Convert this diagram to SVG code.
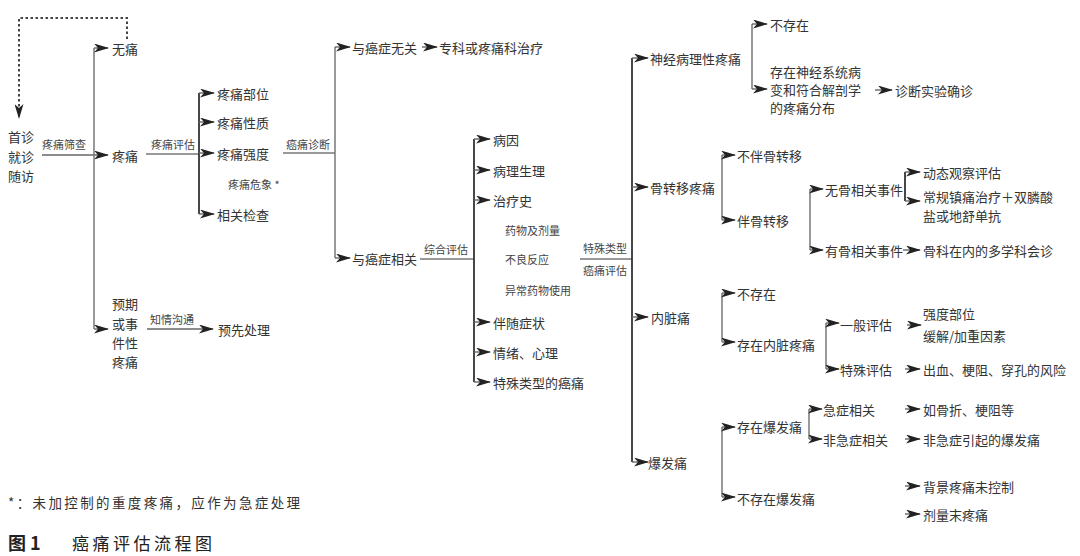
<svg xmlns="http://www.w3.org/2000/svg" width="1080" height="556" viewBox="0 0 1080 556">
<defs>
<marker id="ah" markerWidth="15" markerHeight="9" refX="14" refY="4.5" orient="auto" markerUnits="userSpaceOnUse"><path d="M0,0 L15,4.5 L0,9 L4,4.5 Z" fill="#222"/></marker>
<style>
text{font-family:"Noto Sans CJK SC","Noto Sans",sans-serif;fill:#333;dominant-baseline:central}
.m{font-size:13px}
.s{font-size:11px;fill:#444}
.c{text-anchor:middle}
.ln{fill:none;stroke:#777;stroke-width:1.5}
.dk{fill:none;stroke:#333;stroke-width:1.8}
.ar{fill:none;stroke:#666;stroke-width:1.4;marker-end:url(#ah)}
.dash{fill:none;stroke:#444;stroke-width:2;stroke-dasharray:2.5 2.5;marker-end:url(#ah)}
</style>
</defs>
<rect width="1080" height="556" fill="#fff"/>
<g id="connectors">
<path class="dash" d="M127,39 V18 H19 V118"/>
<path class="ar" d="M42,155 H108"/>
<path class="ln" d="M94,48 V329"/>
<path class="ar" d="M94,48 H108"/>
<path class="ar" d="M94,329 H108"/>
<path class="ln" d="M146,154 H199"/>
<path class="dk" d="M199,93 V214"/>
<path class="ar" d="M199,93 H214"/>
<path class="ar" d="M199,122 H214"/>
<path class="ar" d="M199,153 H214"/>
<path class="ar" d="M199,214 H214"/>
<path class="ln" d="M283,153 H335"/>
<path class="ln" d="M335,47 V258"/>
<path class="ar" d="M335,47 H350"/>
<path class="ar" d="M335,258 H350"/>
<path class="ar" d="M422,47 H437"/>
<path class="ln" d="M420,259 H474"/>
<path class="dk" d="M474,139 V382"/>
<path class="ar" d="M474,139 H490"/>
<path class="ar" d="M474,170 H490"/>
<path class="ar" d="M474,200 H490"/>
<path class="ar" d="M474,322 H490"/>
<path class="ar" d="M474,352 H490"/>
<path class="ar" d="M474,382 H490"/>
<path class="ln" d="M580,259 H632"/>
<path class="dk" d="M632,58 V462"/>
<path class="ar" d="M632,58 H648"/>
<path class="ar" d="M632,187 H648"/>
<path class="ar" d="M632,317 H648"/>
<path class="ar" d="M632,462 H648"/>
<path class="ln" d="M752,24 V89"/>
<path class="ar" d="M752,24 H767"/>
<path class="ar" d="M752,89 H767"/>
<path class="ar" d="M875,90 H892"/>
<path class="ln" d="M722,155 V220"/>
<path class="ar" d="M722,155 H735"/>
<path class="ar" d="M722,220 H735"/>
<path class="ln" d="M810,189 V250"/>
<path class="ar" d="M810,189 H823"/>
<path class="ar" d="M810,250 H823"/>
<path class="dk" d="M905,172 V201"/>
<path class="ar" d="M905,172 H920"/>
<path class="ar" d="M905,201 H920"/>
<path class="ar" d="M903,250 H920"/>
<path class="ln" d="M722,293 V342"/>
<path class="ar" d="M722,293 H735"/>
<path class="ar" d="M722,342 H735"/>
<path class="ln" d="M826,323 V369"/>
<path class="ar" d="M826,323 H839"/>
<path class="ar" d="M826,369 H839"/>
<path class="ar" d="M907,325 H921"/>
<path class="ar" d="M905,369 H920"/>
<path class="ln" d="M722,427 V497"/>
<path class="ar" d="M722,427 H735"/>
<path class="ar" d="M722,497 H735"/>
<path class="ln" d="M809,409 V439"/>
<path class="ar" d="M809,409 H822"/>
<path class="ar" d="M809,439 H822"/>
<path class="ar" d="M905,409 H920"/>
<path class="ar" d="M905,439 H920"/>
<path class="ar" d="M905,486 H920"/>
<path class="ar" d="M905,514 H920"/>
<path class="ar" d="M147,329 H213"/>
</g>
<g id="edge-labels">
<text class="s c" x="64" y="144">疼痛筛查</text>
<text class="s c" x="173" y="144">疼痛评估</text>
<text class="s c" x="308" y="144">癌痛诊断</text>
<text class="s c" x="446" y="249">综合评估</text>
<text class="s c" x="605" y="248">特殊类型</text>
<text class="s c" x="605" y="270">癌痛评估</text>
<text class="s c" x="172" y="319">知情沟通</text>
</g>
<g id="n-visit"><text class="m c" x="21" y="136">首诊</text><text class="m c" x="21" y="156">就诊</text><text class="m c" x="21" y="175">随访</text></g>
<g id="n-nopain"><text class="m" x="112" y="48">无痛</text></g>
<g id="n-pain"><text class="m" x="112" y="155">疼痛</text></g>
<g id="n-expected"><text class="m c" x="125" y="303">预期</text><text class="m c" x="125" y="323">或事</text><text class="m c" x="125" y="342">件性</text><text class="m c" x="125" y="361">疼痛</text></g>
<g id="n-preempt"><text class="m" x="218" y="329">预先处理</text></g>
<g id="n-site"><text class="m" x="217" y="93">疼痛部位</text></g>
<g id="n-nature"><text class="m" x="217" y="122">疼痛性质</text></g>
<g id="n-intensity"><text class="m" x="217" y="153">疼痛强度</text></g>
<g id="n-crisis"><text class="s" x="228" y="184">疼痛危象 *</text></g>
<g id="n-exam"><text class="m" x="217" y="214">相关检查</text></g>
<g id="n-unrelated"><text class="m" x="352" y="47">与癌症无关</text></g>
<g id="n-specialist"><text class="m" x="439" y="47">专科或疼痛科治疗</text></g>
<g id="n-related"><text class="m" x="352" y="258">与癌症相关</text></g>
<g id="n-cause"><text class="m" x="493" y="139">病因</text></g>
<g id="n-patho"><text class="m" x="493" y="170">病理生理</text></g>
<g id="n-history"><text class="m" x="493" y="200">治疗史</text>
<text class="s" x="505" y="230">药物及剂量</text>
<text class="s" x="505" y="259">不良反应</text>
<text class="s" x="505" y="290">异常药物使用</text></g>
<g id="n-symptom"><text class="m" x="493" y="322">伴随症状</text></g>
<g id="n-mood"><text class="m" x="493" y="352">情绪、心理</text></g>
<g id="n-special"><text class="m" x="493" y="382">特殊类型的癌痛</text></g>
<g id="n-neuro"><text class="m" x="650" y="58">神经病理性疼痛</text></g>
<g id="n-neuro-no"><text class="m" x="770" y="24">不存在</text></g>
<g id="n-neuro-yes"><text class="m" x="770" y="71">存在神经系统病</text><text class="m" x="770" y="89">变和符合解剖学</text><text class="m" x="770" y="107">的疼痛分布</text></g>
<g id="n-diag"><text class="m" x="895" y="90">诊断实验确诊</text></g>
<g id="n-bone"><text class="m" x="650" y="187">骨转移疼痛</text></g>
<g id="n-bone-no"><text class="m" x="737" y="155">不伴骨转移</text></g>
<g id="n-bone-yes"><text class="m" x="737" y="220">伴骨转移</text></g>
<g id="n-sre-no"><text class="m" x="825" y="189">无骨相关事件</text></g>
<g id="n-sre-yes"><text class="m" x="825" y="250">有骨相关事件</text></g>
<g id="n-observe"><text class="m" x="923" y="172">动态观察评估</text></g>
<g id="n-routine"><text class="m" x="923" y="196">常规镇痛治疗＋双膦酸</text><text class="m" x="923" y="215">盐或地舒单抗</text></g>
<g id="n-mdt"><text class="m" x="923" y="250">骨科在内的多学科会诊</text></g>
<g id="n-visceral"><text class="m" x="651" y="317">内脏痛</text></g>
<g id="n-vis-no"><text class="m" x="737" y="293">不存在</text></g>
<g id="n-vis-yes"><text class="m" x="737" y="344">存在内脏疼痛</text></g>
<g id="n-general"><text class="m" x="840" y="324">一般评估</text></g>
<g id="n-general-d"><text class="m" x="923" y="313">强度部位</text><text class="m" x="923" y="335">缓解/加重因素</text></g>
<g id="n-specific"><text class="m" x="840" y="369">特殊评估</text></g>
<g id="n-risk"><text class="m" x="923" y="369">出血、梗阻、穿孔的风险</text></g>
<g id="n-btp"><text class="m" x="648" y="462">爆发痛</text></g>
<g id="n-btp-yes"><text class="m" x="737" y="426">存在爆发痛</text></g>
<g id="n-btp-no"><text class="m" x="737" y="498">不存在爆发痛</text></g>
<g id="n-emerg"><text class="m" x="823" y="409">急症相关</text></g>
<g id="n-nonemerg"><text class="m" x="823" y="439">非急症相关</text></g>
<g id="n-fracture"><text class="m" x="923" y="409">如骨折、梗阻等</text></g>
<g id="n-nonemerg-btp"><text class="m" x="923" y="439">非急症引起的爆发痛</text></g>
<g id="n-uncontrolled"><text class="m" x="923" y="486">背景疼痛未控制</text></g>
<g id="n-eod"><text class="m" x="923" y="514">剂量末疼痛</text></g>
<g id="footer">
<text x="8" y="502" style="font-size:13.5px" textLength="292" lengthAdjust="spacing">*：未加控制的重度疼痛，应作为急症处理</text>
<text x="8" y="542" style="font-size:18px;font-weight:bold;fill:#222">图 1</text>
<text x="72" y="542" style="font-size:17px;fill:#222" textLength="140" lengthAdjust="spacing">癌痛评估流程图</text>
</g>
</svg>
